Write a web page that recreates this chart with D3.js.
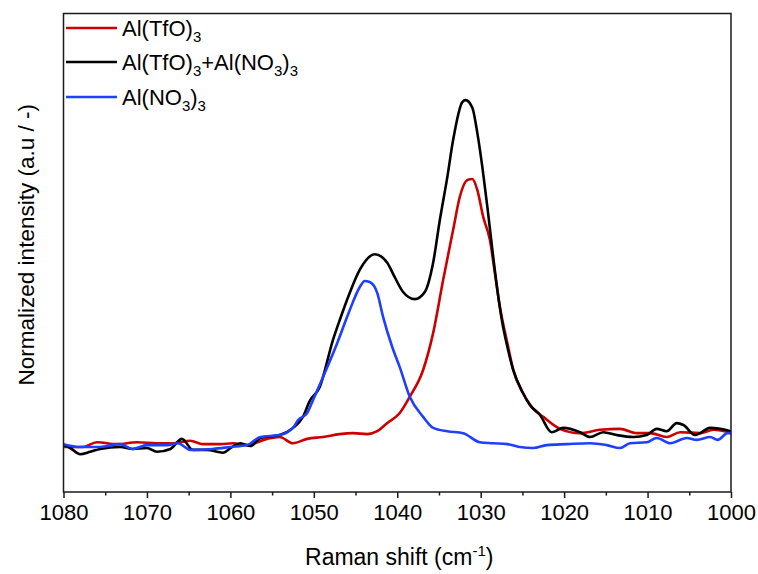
<!DOCTYPE html>
<html>
<head>
<meta charset="utf-8">
<script src="https://cdn.jsdelivr.net/npm/d3@7"></script>
<style>
  body { margin: 0; background: #fff; }
  text { font-family: "Liberation Sans", Arial, sans-serif; fill: #000; }
</style>
</head>
<body>
<svg id="chart" width="758" height="574"></svg>
<script>
// ---- data ----
const seriesNames = ["Al(TfO)3", "Al(TfO)3+Al(NO3)3", "Al(NO3)3"];
const seriesColors = ["#cc0000", "#000000", "#1f3fff"];

const redShift = [1080.0,1077.7,1076.0,1073.6,1071.2,1068.8,1066.9,1064.8,1063.3,1061.2,1059.7,1058.0,1055.6,1054.1,1052.5,1050.8,1048.9,1046.9,1045.3,1043.6,1042.4,1041.2,1039.7,1038.5,1036.9,1035.7,1034.5,1033.3,1032.5,1031.6,1031.0,1030.4,1029.7,1028.9,1028.3,1027.7,1026.8,1026.1,1025.0,1023.9,1022.5,1020.5,1018.1,1015.7,1013.3,1011.3,1009.7,1007.7,1006.1,1003.7,1002.1,1000.0];
const redValue = [9.4,9.4,10.4,10.0,10.4,10.2,10.2,10.7,10.0,10.0,10.2,9.8,11.1,11.5,10.2,11.1,11.5,12.1,12.3,12.1,12.7,14.4,16.5,19.9,25.5,33.2,44.3,54.8,61.7,65.2,65.4,63.1,57.5,52.7,45.8,38.7,31.1,25.5,20.9,17.8,15.7,13.2,12.3,13.0,13.2,12.3,12.3,11.5,12.5,12.3,13.0,12.3];

const blackShift = [1080.0,1079.2,1078.0,1076.8,1075.6,1073.2,1071.7,1070.0,1068.8,1067.2,1065.8,1064.5,1062.8,1060.9,1059.8,1058.8,1057.6,1056.4,1054.1,1052.5,1051.3,1050.5,1049.3,1047.7,1046.9,1045.7,1044.5,1042.7,1041.2,1040.3,1039.3,1037.9,1036.7,1035.7,1034.9,1034.0,1033.3,1032.2,1031.8,1031.0,1030.4,1029.8,1029.2,1028.6,1028.0,1027.4,1026.8,1026.1,1025.0,1024.1,1022.9,1021.5,1020.1,1018.1,1016.9,1015.3,1013.7,1011.7,1010.1,1008.9,1007.7,1006.5,1005.7,1004.3,1002.5,1000.0];
const blackValue = [9.8,9.2,7.9,8.4,9.0,9.4,9.0,9.2,8.4,9.0,11.1,8.8,8.8,8.2,9.4,10.2,9.6,11.3,11.9,13.4,15.7,19.0,21.9,31.8,35.9,41.6,46.4,49.7,47.9,44.9,41.8,40.3,41.8,47.9,56.8,65.8,73.6,81.5,81.9,80.3,75.0,67.9,59.6,50.6,42.2,35.3,30.3,25.5,20.9,18.2,16.1,12.5,13.4,12.5,11.5,12.5,11.9,11.5,11.9,13.2,12.7,14.4,14.0,11.9,13.4,12.7];

const blueShift = [1080.0,1078.0,1075.6,1073.2,1071.7,1070.0,1067.6,1066.3,1064.8,1062.1,1060.0,1058.0,1056.4,1054.1,1052.5,1051.9,1050.8,1050.1,1048.9,1047.2,1045.7,1044.5,1043.9,1043.3,1042.4,1041.7,1040.6,1039.7,1038.5,1036.9,1035.7,1034.0,1032.1,1030.1,1028.5,1026.8,1025.3,1023.7,1022.1,1019.7,1016.9,1014.9,1013.3,1012.1,1010.1,1008.9,1007.3,1005.3,1004.1,1002.5,1001.6,1000.4,1000.0];
const blueValue = [10.0,9.4,9.4,10.0,9.0,9.8,9.8,10.2,8.8,9.0,9.4,9.8,11.5,11.9,13.4,15.0,16.5,19.2,24.0,31.1,38.0,42.8,44.1,43.9,41.6,36.6,30.3,26.1,19.9,15.7,13.4,12.7,12.3,10.4,10.2,10.0,9.4,9.2,9.8,10.0,10.2,9.8,9.2,10.2,10.4,11.3,10.2,11.3,10.9,11.5,10.9,12.3,12.3];

const xTicks = [1080,1070,1060,1050,1040,1030,1020,1010,1000];
const xMinorTicks = [1075,1065,1055,1045,1035,1025,1015,1005];
const xLabel = "Raman shift (cm";
const yLabel = "Normalized intensity (a.u / -)";

// ---- layout ----
const svg = d3.select("#chart");
const L = 63.5, R = 731, T = 13.5, B = 492;

const x = d3.scaleLinear().domain([1080, 1000]).range([L, R]);
const y = d3.scaleLinear().domain([0, 100]).range([B, T]);

const series = [
  { name: seriesNames[0], color: seriesColors[0], xs: redShift, ys: redValue },
  { name: seriesNames[1], color: seriesColors[1], xs: blackShift, ys: blackValue },
  { name: seriesNames[2], color: seriesColors[2], xs: blueShift, ys: blueValue }
];

const line = d3.line()
  .x(d => x(d[0]))
  .y(d => y(d[1]))
  .curve(d3.curveMonotoneX);

svg.append("defs").append("clipPath").attr("id", "clip")
  .append("rect").attr("x", L).attr("y", T).attr("width", R - L).attr("height", B - T);

const plot = svg.append("g").attr("clip-path", "url(#clip)");
series.forEach(s => {
  const pts = s.xs.map((v, i) => [v, s.ys[i]]);
  plot.append("path")
    .attr("d", line(pts))
    .attr("fill", "none")
    .attr("stroke", s.color)
    .attr("stroke-width", 2.6)
    .attr("stroke-linejoin", "round")
    .attr("stroke-linecap", "round");
});

// frame
svg.append("rect")
  .attr("x", L).attr("y", T).attr("width", R - L).attr("height", B - T)
  .attr("fill", "none").attr("stroke", "#1a1a1a").attr("stroke-width", 1.5);

// bottom axis
const xAxis = d3.axisBottom(x).tickValues(xTicks).tickSize(6).tickPadding(6).tickFormat(d3.format("d"));
const gx = svg.append("g").attr("transform", `translate(0,${B})`).call(xAxis);
gx.select(".domain").remove();
gx.selectAll(".tick line").attr("stroke", "#1a1a1a").attr("stroke-width", 1.5);
gx.selectAll(".tick text")
  .attr("font-family", "'Liberation Sans', Arial, sans-serif")
  .attr("font-size", 22).attr("fill", "#000");

const xMinor = d3.axisBottom(x).tickValues(xMinorTicks).tickSize(3.5).tickFormat("");
const gxm = svg.append("g").attr("transform", `translate(0,${B})`).call(xMinor);
gxm.select(".domain").remove();
gxm.selectAll(".tick line").attr("stroke", "#1a1a1a").attr("stroke-width", 1.5);

// axis titles
const xt = svg.append("text")
  .attr("x", (L + R) / 2 + 2).attr("y", 565)
  .attr("text-anchor", "middle")
  .attr("font-size", 23);
xt.append("tspan").text(xLabel);
xt.append("tspan").attr("dy", -9).attr("font-size", 15).text("-1");
xt.append("tspan").attr("dy", 9).text(")");

svg.append("text")
  .attr("transform", `translate(34,${(T + B) / 2 - 8}) rotate(-90)`)
  .attr("text-anchor", "middle")
  .attr("font-size", 22.5)
  .text(yLabel);

// legend
const legendParts = [
  [["Al(TfO)", 0], ["3", 1]],
  [["Al(TfO)", 0], ["3", 1], ["+Al(NO", 0], ["3", 1], [")", 0], ["3", 1]],
  [["Al(NO", 0], ["3", 1], [")", 0], ["3", 1]]
];
const legY = [28, 62, 97];
series.forEach((s, i) => {
  svg.append("line")
    .attr("x1", 66).attr("x2", 117)
    .attr("y1", legY[i]).attr("y2", legY[i])
    .attr("stroke", s.color).attr("stroke-width", 2.6);
  const t = svg.append("text")
    .attr("x", 122).attr("y", legY[i] + 8)
    .attr("font-size", 22);
  let sub = false;
  legendParts[i].forEach(([txt, isSub]) => {
    const ts = t.append("tspan").text(txt);
    if (isSub && !sub) { ts.attr("dy", 6).attr("font-size", 15); sub = true; }
    else if (isSub && sub) { ts.attr("font-size", 15); }
    else if (!isSub && sub) { ts.attr("dy", -6); sub = false; }
  });
});
</script>
</body>
</html>
